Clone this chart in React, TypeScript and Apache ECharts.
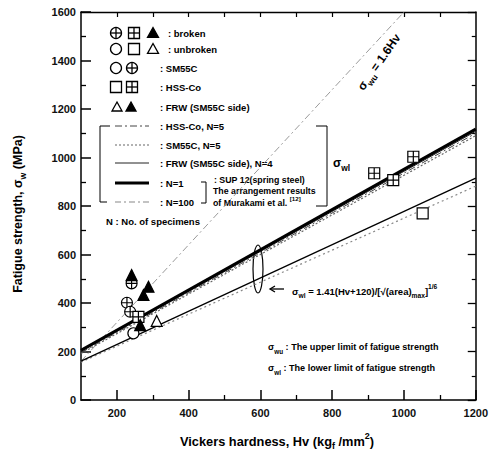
import React, { useEffect, useRef } from "react";
import * as echarts from "echarts";

// ---- data ----
const xTickMajor = [200, 400, 600, 800, 1000, 1200];
const xTickMinor = [300, 500, 700, 900, 1100];
const xTickTop = [200, 300, 400, 500, 600, 700, 800, 900, 1000, 1100];

const sigmaWuLine = [[100, 160], [1000, 1600]];
const n1Line = [[100, 205], [1200, 1117]];
const frwN4Line = [[100, 200], [1200, 1108]];
const hssN5Line = [[100, 196], [1200, 1100]];
const sm55cN5Line = [[100, 192], [1200, 1090]];
const sigmaWlLine = [[100, 160], [1200, 915]];
const n100Line = [[100, 156], [1200, 882]];

const circlePlusPts = [[241, 481], [228, 401], [237, 364]];
const circleOpenPts = [[246, 275]];
const squarePlusPts = [[260, 343], [917, 935], [970, 907], [1026, 1003]];
const squareOpenPts = [[1052, 770]];
const triFilledPts = [[241, 515], [288, 467], [274, 433], [265, 309]];
const triOpenPts = [[311, 326]];

const FONT = "'Liberation Sans', Arial, sans-serif";

const CIRCLE_PLUS = "path://M0,-10A10,10 0 1,1 0,10A10,10 0 1,1 0,-10Z M0,-10L0,10 M-10,0L10,0";
const SQUARE_PLUS = "path://M-10,-10H10V10H-10Z M0,-10V10 M-10,0H10";

function legendSym(kind: string, cx: number, cy: number, s = 5.5): any[] {
  const st = { fill: "#fff", stroke: "#000", lineWidth: 1.3 };
  const out: any[] = [];
  if (kind === "circle" || kind === "circlePlus") {
    out.push({ type: "circle", shape: { cx, cy, r: s }, style: st });
  }
  if (kind === "square" || kind === "squarePlus") {
    out.push({ type: "rect", shape: { x: cx - s, y: cy - s, width: 2 * s, height: 2 * s }, style: st });
  }
  if (kind === "circlePlus" || kind === "squarePlus") {
    out.push({ type: "line", shape: { x1: cx - s, y1: cy, x2: cx + s, y2: cy }, style: { stroke: "#000", lineWidth: 1.3 } });
    out.push({ type: "line", shape: { x1: cx, y1: cy - s, x2: cx, y2: cy + s }, style: { stroke: "#000", lineWidth: 1.3 } });
  }
  if (kind === "tri" || kind === "triFilled") {
    out.push({
      type: "polygon",
      shape: { points: [[cx, cy - s], [cx + s, cy + s * 0.8], [cx - s, cy + s * 0.8]] },
      style: { fill: kind === "triFilled" ? "#000" : "#fff", stroke: "#000", lineWidth: 1.3 },
    });
  }
  return out;
}

function txt(x: number, y: number, text: string, size = 9.5, extra: any = {}): any {
  return {
    type: "text",
    x,
    y,
    ...extra,
    style: {
      text,
      fontSize: size,
      fontWeight: "bold",
      fontFamily: FONT,
      fill: "#000",
      verticalAlign: "middle",
      align: "left",
      ...(extra.style || {}),
    },
  };
}

function sampleLine(x1: number, x2: number, y: number, style: any): any {
  return { type: "line", shape: { x1, y1: y, x2, y2: y }, style };
}

const subRich = (size: number) => ({
  n: { fontSize: size, fontWeight: "bold", fontFamily: FONT, lineHeight: size + 6, verticalAlign: "middle" },
  sub: { fontSize: size * 0.7, fontWeight: "bold", fontFamily: FONT, lineHeight: size * 0.7, verticalAlign: "bottom" },
  sup: { fontSize: size * 0.7, fontWeight: "bold", fontFamily: FONT, lineHeight: size * 0.7, verticalAlign: "top" },
});

export default function App() {
  const ref = useRef<HTMLDivElement>(null);
  useEffect(() => {
    document.body.style.margin = "0";
    if (!ref.current) return;
    const chart = echarts.init(ref.current, null, { renderer: "svg" });

    const lineStyles = {
      wu: { color: "#9a9a9a", width: 1, type: [7, 3, 2, 3] },
      n1: { color: "#000", width: 3, type: "solid" },
      frw: { color: "#222", width: 1, type: "solid" },
      hss: { color: "#444", width: 1, type: [7, 3, 2, 3] },
      sm: { color: "#666", width: 1.2, type: [2, 2] },
      wl: { color: "#000", width: 1.3, type: "solid" },
      n100: { color: "#888", width: 1.2, type: [2, 3] },
    };

    const mkLine = (name: string, data: number[][], ls: any) => ({
      name,
      type: "line",
      data,
      showSymbol: false,
      silent: true,
      lineStyle: ls,
      z: 2,
    });

    const mkScatter = (name: string, data: number[][], symbol: string, fill: string) => ({
      name,
      type: "scatter",
      data,
      symbol,
      symbolSize: 11,
      silent: true,
      itemStyle: { color: fill, borderColor: "#000", borderWidth: 1.2, opacity: 1 },
      z: 5,
    });

    const axisTxt = { color: "#111", fontSize: 11, fontWeight: "bold", fontFamily: FONT, formatter: (v: number) => String(v) };

    const graphics: any[] = [];
    // legend symbols
    graphics.push(...legendSym("circlePlus", 116, 33), ...legendSym("squarePlus", 134, 33), ...legendSym("triFilled", 153, 33));
    graphics.push(txt(168, 33, ": broken"));
    graphics.push(...legendSym("circle", 116, 49), ...legendSym("square", 134, 49), ...legendSym("tri", 153, 49));
    graphics.push(txt(168, 49, ": unbroken"));
    graphics.push(...legendSym("circle", 116, 68), ...legendSym("circlePlus", 132, 68));
    graphics.push(txt(160, 68, ": SM55C"));
    graphics.push(...legendSym("square", 116, 87), ...legendSym("squarePlus", 132, 87));
    graphics.push(txt(160, 87, ": HSS-Co"));
    graphics.push(...legendSym("tri", 117, 107, 5), ...legendSym("triFilled", 131, 107, 5));
    graphics.push(txt(160, 107, ": FRW (SM55C side)"));
    graphics.push(sampleLine(115, 149, 126, { stroke: "#444", lineWidth: 1, lineDash: [7, 3, 2, 3] }));
    graphics.push(txt(160, 126, ": HSS-Co, N=5"));
    graphics.push(sampleLine(115, 149, 145, { stroke: "#666", lineWidth: 1.2, lineDash: [2, 2] }));
    graphics.push(txt(160, 145, ": SM55C, N=5"));
    graphics.push(sampleLine(115, 149, 163, { stroke: "#222", lineWidth: 1 }));
    graphics.push(txt(160, 163, ": FRW (SM55C side), N=4"));
    graphics.push(sampleLine(115, 149, 183, { stroke: "#000", lineWidth: 3 }));
    graphics.push(txt(160, 183, ": N=1"));
    graphics.push(sampleLine(115, 149, 202, { stroke: "#888", lineWidth: 1.2, lineDash: [6, 3, 2, 3] }));
    graphics.push(txt(160, 202, ": N=100"));
    graphics.push(txt(106, 221, "N : No. of specimens"));
    // brackets
    graphics.push({ type: "polyline", shape: { points: [[110, 126], [100, 126], [100, 202], [107, 202]] }, style: { stroke: "#000", lineWidth: 1, fill: "none" } });
    graphics.push({ type: "polyline", shape: { points: [[201, 182], [206, 182], [206, 203], [201, 203]] }, style: { stroke: "#000", lineWidth: 1, fill: "none" } });
    graphics.push({ type: "polyline", shape: { points: [[316, 126], [327, 126], [327, 206], [316, 206]] }, style: { stroke: "#000", lineWidth: 1, fill: "none" } });
    graphics.push(txt(214, 180, ": SUP 12(spring steel)", 8.8));
    graphics.push(txt(213, 191, "The arrangement results", 8.8));
    graphics.push({
      type: "text", x: 213, y: 203,
      style: { text: "{n|of Murakami et al. }{sup|[12]}", rich: subRich(8.8), verticalAlign: "middle", align: "left", fill: "#000" },
    });
    // sigma labels
    graphics.push({
      type: "text", x: 333, y: 163,
      style: { text: "{n|σ}{sub|wl}", rich: subRich(12), verticalAlign: "middle", align: "left", fill: "#000" },
    });
    graphics.push({
      type: "text", x: 379, y: 62, rotation: (55 * Math.PI) / 180,
      style: { text: "{n|σ}{sub|wu}{n| = 1.6Hv}", rich: subRich(12), verticalAlign: "middle", align: "center", fill: "#000" },
    });
    // ellipse at Hv = 600
    graphics.push({ type: "ellipse", shape: { cx: 258, cy: 269, rx: 5, ry: 24 }, style: { fill: "none", stroke: "#000", lineWidth: 1.2 } });
    // formula with arrow
    graphics.push({ type: "line", shape: { x1: 271, y1: 289, x2: 284, y2: 289 }, style: { stroke: "#000", lineWidth: 1.3 } });
    graphics.push({ type: "polyline", shape: { points: [[275, 286], [270, 289], [275, 292]] }, style: { stroke: "#000", lineWidth: 1.3, fill: "none" } });
    graphics.push({
      type: "text", x: 292, y: 291,
      style: {
        text: "{n|σ}{sub|wl}{n| = 1.41(Hv+120)/[√(area)}{sub|max}{n|]}{sup|1/6}",
        rich: subRich(9.5), verticalAlign: "middle", align: "left", fill: "#000",
      },
    });
    graphics.push({
      type: "text", x: 268, y: 347,
      style: { text: "{n|σ}{sub|wu}{n| : The upper limit of fatigue strength}", rich: subRich(9.1), verticalAlign: "middle", align: "left", fill: "#000" },
    });
    graphics.push({
      type: "text", x: 268, y: 368,
      style: { text: "{n|σ}{sub|wl}{n| : The lower limit of fatigue strength}", rich: subRich(9.1), verticalAlign: "middle", align: "left", fill: "#000" },
    });
    // axis titles
    graphics.push({
      type: "text", x: 277, y: 441,
      style: { text: "{n|Vickers hardness, Hv (kg}{sub|f}{n| /mm}{sup|2}{n|)}", rich: subRich(12.8), verticalAlign: "middle", align: "center", fill: "#000" },
    });
    graphics.push({
      type: "text", x: 18, y: 214, rotation: Math.PI / 2,
      style: { text: "{n|Fatigue strength, σ}{sub|w}{n| (MPa)}", rich: subRich(12.5), verticalAlign: "middle", align: "center", fill: "#000" },
    });

    chart.setOption({
      animation: false,
      backgroundColor: "#fff",
      grid: { left: 81, right: 14, top: 12, bottom: 55, containLabel: false },
      xAxis: [
        {
          type: "value", min: 100, max: 1200, interval: 100, position: "bottom",
          axisLine: { onZero: false, lineStyle: { color: "#000", width: 1.5 } },
          axisTick: { inside: true, length: 10, customValues: xTickMajor, lineStyle: { color: "#000", width: 1.5 } },
          axisLabel: { ...axisTxt, margin: 7, customValues: xTickMajor },
          splitLine: { show: false },
        },
        {
          type: "value", min: 100, max: 1200, interval: 100, position: "bottom",
          axisLine: { show: false },
          axisTick: { inside: true, length: 5, customValues: xTickMinor, lineStyle: { color: "#000", width: 1.3 } },
          axisLabel: { show: false },
          splitLine: { show: false },
        },
        {
          type: "value", min: 100, max: 1200, interval: 100, position: "top",
          axisLine: { onZero: false, lineStyle: { color: "#000", width: 1.3 } },
          axisTick: { inside: true, length: 5, customValues: xTickTop, lineStyle: { color: "#000", width: 1.2 } },
          axisLabel: { show: false },
          splitLine: { show: false },
        },
      ],
      yAxis: [
        {
          type: "value", min: 0, max: 1600, interval: 200, position: "left",
          axisLine: { onZero: false, lineStyle: { color: "#000", width: 1.5 } },
          axisTick: { inside: true, length: 10, lineStyle: { color: "#000", width: 1.5 } },
          minorTick: { show: true, splitNumber: 2, length: 5, lineStyle: { color: "#000", width: 1.3 } },
          axisLabel: { ...axisTxt, margin: 5 },
          splitLine: { show: false },
        },
        {
          type: "value", min: 0, max: 1600, interval: 200, position: "right",
          axisLine: { onZero: false, lineStyle: { color: "#000", width: 1.5 } },
          axisTick: { inside: true, length: 8, lineStyle: { color: "#000", width: 1.3 } },
          minorTick: { show: true, splitNumber: 2, length: 4, lineStyle: { color: "#000", width: 1.2 } },
          axisLabel: { show: false },
          splitLine: { show: false },
        },
      ],
      series: [
        mkLine("σwu = 1.6Hv", sigmaWuLine, lineStyles.wu),
        mkLine("N=100", n100Line, lineStyles.n100),
        mkLine("σwl", sigmaWlLine, lineStyles.wl),
        mkLine("SM55C, N=5", sm55cN5Line, lineStyles.sm),
        mkLine("HSS-Co, N=5", hssN5Line, lineStyles.hss),
        mkLine("FRW (SM55C side), N=4", frwN4Line, lineStyles.frw),
        mkLine("N=1", n1Line, lineStyles.n1),
        mkScatter("SM55C unbroken", circleOpenPts, "circle", "#fff"),
        mkScatter("SM55C broken", circlePlusPts, CIRCLE_PLUS, "#fff"),
        mkScatter("HSS-Co unbroken", squareOpenPts, "rect", "#fff"),
        mkScatter("HSS-Co broken", squarePlusPts, SQUARE_PLUS, "#fff"),
        mkScatter("FRW unbroken", triOpenPts, "triangle", "#fff"),
        mkScatter("FRW broken", triFilledPts, "triangle", "#000"),
      ],
      graphic: graphics,
    });
    return () => chart.dispose();
  }, []);
  return <div ref={ref} style={{ width: 491, height: 455 }} />;
}
